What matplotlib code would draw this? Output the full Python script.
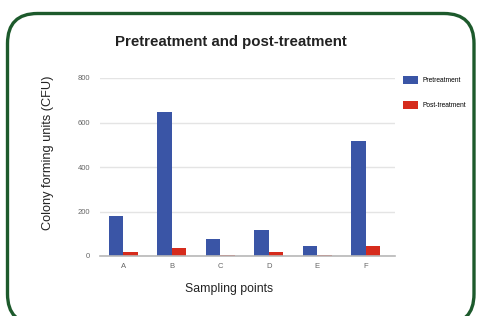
import matplotlib
matplotlib.use("Agg")
import matplotlib.pyplot as plt
from matplotlib.patches import FancyBboxPatch
import numpy as np

plt.rcParams['font.family'] = ['Liberation Sans', 'DejaVu Sans']

categories = ["A", "B", "C", "D", "E", "F"]
pretreatment = [178, 648, 78, 118, 46, 518]
post_treatment = [17, 36, 5, 16, 6, 46]
yticks = [0, 200, 400, 600, 800]

W, H = 478, 316
fig = plt.figure(figsize=(W / 100, H / 100), dpi=100)
fig.patch.set_facecolor("white")

# rounded green frame (bottom edge runs just below the image)
frame = FancyBboxPatch((7.5 / W, -8 / H), 466.5 / W, 310.5 / H,
                       boxstyle="round,pad=0,rounding_size=%f" % (30 / W),
                       transform=fig.transFigure, facecolor="none",
                       edgecolor="#1d5a2c", linewidth=2.4,
                       mutation_aspect=W / H)
fig.patches.append(frame)

ax = fig.add_axes([100 / W, 1 - 256 / H, 295 / W, 178 / H])
x = np.arange(len(categories))
bw = 0.3
ax.bar(x - bw / 2, pretreatment, bw, color="#3a55a6", label="Pretreatment", zorder=3)
ax.bar(x + bw / 2, post_treatment, bw, color="#d62b1c", label="Post-treatment", zorder=3)

ax.set_ylim(0, 800)
ax.set_xlim(-0.48, 5.6)
ax.set_yticks(yticks)
ax.set_yticklabels([str(v) for v in yticks])
ax.set_xticks(x)
ax.set_xticklabels(categories)
ax.tick_params(axis="both", length=0, labelsize=5.5, colors="#666666")
ax.tick_params(axis="y", pad=7)
ax.tick_params(axis="x", pad=5)
ax.grid(axis="y", color="#e4e4e4", linewidth=1, zorder=0)
for s in ["top", "right", "left"]:
    ax.spines[s].set_visible(False)
ax.spines["bottom"].set_color("#b8b8b8")
ax.spines["bottom"].set_linewidth(1.2)
ax.spines["bottom"].set_zorder(4)

fig.text(231 / W, 1 - 42 / H, "Pretreatment and post-treatment",
         ha="center", va="center", fontsize=10.8, fontweight="bold", color="#222222")
fig.text(48 / W, 1 - 153 / H, "Colony forming units (CFU)", rotation=90,
         ha="center", va="center", fontsize=9.2, color="#222222")
fig.text(229 / W, 1 - 289 / H, "Sampling points",
         ha="center", va="center", fontsize=8.8, color="#222222")

leg = fig.legend(loc="upper left", bbox_to_anchor=(397 / W, 1 - 70 / H),
                 frameon=False, fontsize=4.8, handlelength=2.2, handleheight=1.4,
                 labelspacing=2.6, handletextpad=0.7)

fig.savefig("out.png", dpi=100, facecolor="white")
